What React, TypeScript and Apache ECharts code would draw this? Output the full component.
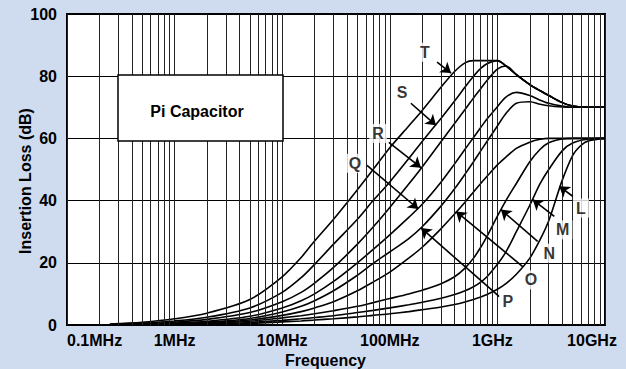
import React, { useEffect, useRef } from 'react';
import * as echarts from 'echarts';

// Frequency in MHz, insertion loss in dB
const seriesNames = ['T', 'S', 'R', 'Q', 'P', 'O', 'N', 'M', 'L'];

const curveT = [[0.25,0.3],[0.5,0.9],[1,2.0],[2,3.8],[5,8.2],[10,15.5],[15,21.7],[20,27],[30,34],[50,43.5],[70,50],[100,57],[150,64],[200,69],[300,76.5],[400,81.5],[500,84.3],[600,85],[1000,85],[1200,83.3],[1500,80.5],[2000,77.3],[2500,75.3],[3000,73.8],[4000,71.5],[5000,70.4],[7000,70],[10000,70]];
const curveS = [[0.25,0.2],[0.5,0.6],[1,1.3],[2,2.5],[5,5.5],[10,10.5],[15,15.2],[20,19.5],[30,26],[50,34],[70,40],[100,46],[150,53.5],[200,59],[300,66.5],[400,72],[500,76.5],[600,80],[700,82.5],[800,84],[1000,85],[1200,83.3],[1500,80.5],[2000,77.3],[2500,75.3],[3000,73.8],[4000,71.5],[5000,70.4],[7000,70],[10000,70]];
const curveR = [[0.25,0.1],[0.5,0.4],[1,0.9],[2,1.8],[5,4],[10,7.5],[15,10.5],[20,13.5],[30,18.5],[50,26],[70,31.5],[100,37.8],[150,45.3],[200,50.8],[300,59],[400,64.8],[500,69.3],[600,73],[700,76],[800,78.6],[1000,82.3],[1200,83.3],[1500,80.5],[2000,77.3],[2500,75.3],[3000,73.8],[4000,71.5],[5000,70.4],[7000,70],[10000,70]];
const curveQ = [[0.25,0.05],[0.5,0.25],[1,0.6],[2,1.2],[5,2.8],[10,5.5],[15,7.8],[20,10],[30,14],[50,20],[70,24.3],[100,29],[150,34.6],[200,38.8],[300,46],[400,51.8],[500,56.5],[600,60.3],[700,63.5],[800,66.2],[1000,70.2],[1200,73.3],[1500,74.8],[2000,73.8],[2500,72.3],[3000,71.3],[4000,70.4],[5000,70],[10000,70]];
const curveP = [[0.25,0.03],[0.5,0.15],[1,0.4],[2,0.9],[5,2.1],[10,4.2],[15,6],[20,7.8],[30,11],[50,16],[70,19.8],[100,23.5],[150,27.8],[200,31.6],[300,38.3],[400,43.8],[500,48.5],[600,52.5],[700,56],[800,59],[1000,64],[1200,68],[1500,71.3],[2000,71.8],[2500,71],[3000,70.5],[4000,70.1],[5000,70],[10000,70]];
const curveO = [[0.25,0.02],[0.5,0.1],[1,0.3],[2,0.7],[5,1.6],[10,3.1],[15,4.3],[20,5.5],[30,7.5],[50,11],[70,13.8],[100,17],[150,21.5],[200,25],[300,31],[400,35.7],[500,39.5],[600,42.8],[700,45.5],[800,47.8],[1000,51.5],[1200,54],[1500,56.8],[2000,58.8],[2500,59.7],[3000,60],[10000,60]];
const curveN = [[0.25,0.02],[0.5,0.08],[1,0.2],[2,0.5],[5,1.2],[10,2.3],[15,3.0],[20,3.6],[30,4.6],[50,6],[70,7.2],[100,8.5],[150,10],[200,11.2],[300,13.3],[400,15.5],[500,18.3],[600,21.5],[700,25],[800,28.5],[1000,35],[1200,40],[1500,45.5],[2000,52.5],[2500,56.5],[3000,58.6],[4000,59.8],[5000,60],[10000,60]];
const curveM = [[0.25,0.01],[0.5,0.05],[1,0.13],[2,0.3],[5,0.8],[10,1.5],[15,2],[20,2.4],[30,3.0],[50,4],[70,4.7],[100,5.5],[150,6.5],[200,7.3],[300,8.6],[400,9.8],[500,11],[600,12.3],[700,13.8],[800,15.5],[1000,19.5],[1200,23.5],[1500,30],[2000,38.5],[2500,45.5],[3000,50],[4000,56],[5000,58.5],[7000,59.8],[10000,60]];
const curveL = [[0.25,0.01],[0.5,0.03],[1,0.08],[2,0.2],[5,0.5],[10,1.0],[15,1.3],[20,1.6],[30,2.0],[50,2.6],[70,3.1],[100,3.6],[150,4.3],[200,4.9],[300,5.8],[400,6.6],[500,7.4],[600,8.2],[700,9],[800,9.8],[1000,11.5],[1200,13.3],[1500,16.3],[2000,21.5],[2500,27.5],[3000,33.5],[4000,46.5],[5000,54.5],[6000,57.8],[7000,59.2],[10000,60]];
const curves = [curveT, curveS, curveR, curveQ, curveP, curveO, curveN, curveM, curveL];

const xTickLabels = ['0.1MHz', '1MHz', '10MHz', '100MHz', '1GHz', '10GHz'];
const gridDecades = [0.1, 1, 10, 100, 1000];
const gridSteps = [2, 3, 4, 5, 6, 7, 8, 9];

const labelNames = ['T', 'S', 'R', 'Q', 'P', 'O', 'N', 'M', 'L'];
const labelPos = [[212,87.7],[130,74.8],[77.7,61.6],[47.5,52],[1247,7.7],[2050,14.5],[3035,23.1],[4050,30.6],[5985,37.6]];
const arrowFrom = [[275,84.5],[157,71.3],[98,58.7],[61.4,51.3],[1042,9.1],[1718,18.8],[2365,26.9],[3380,34.9],[5010,41.4]];
const arrowTo = [[371,81],[269,64.2],[195,50.6],[184,37.3],[195,31.2],[412,36.5],[1079,37.1],[2130,40.3],[3760,44.6]];

const boxTitle = 'Pi Capacitor';
const yAxisTitle = 'Insertion Loss (dB)';
const xAxisTitle = 'Frequency';

export default function App() {
  const ref = useRef<HTMLDivElement>(null);
  useEffect(() => {
    const chart = echarts.init(ref.current!, null, { renderer: 'svg' });
    const font = '"Liberation Sans", Arial, Helvetica, sans-serif';
    const minorLines: any[] = [];
    gridDecades.forEach((d) => gridSteps.forEach((s) => minorLines.push({ xAxis: +(d * s).toPrecision(3) })));
    const txt = { fontSize: 16, fontWeight: 'bold', color: '#000', fontFamily: font };
    chart.setOption({
      animation: false,
      backgroundColor: '#cfdcf0',
      textStyle: { fontFamily: font },
      grid: {
        left: 67, right: 21, top: 14, bottom: 44, show: true, containLabel: false, outerBoundsMode: 'none',
        backgroundColor: '#fff', borderColor: '#000', borderWidth: 2,
      },
      xAxis: {
        type: 'log', logBase: 10, min: 0.1, max: 10000,
        axisLine: { show: false }, axisTick: { show: false },
        splitLine: { show: true, lineStyle: { color: '#222', width: 1 } },
        axisLabel: {
          ...txt, margin: 7, showMinLabel: true, showMaxLabel: true, alignMinLabel: 'left',
          formatter: (v: number) => {
            const i = Math.round(Math.log10(v)) + 1;
            const s = xTickLabels[i] ?? '';
            if (i === 4) return '{g|' + s + '}';
            if (i === 5) return '{h|' + s + '}';
            return s;
          },
          rich: {
            g: { ...txt, padding: [0, 10, 0, 0] },
            h: { ...txt, padding: [0, 26, 0, 0] },
          },
        },
        name: xAxisTitle, nameLocation: 'middle', nameGap: 19,
        nameTextStyle: { ...txt, padding: [0, 21, 0, 0] },
      },
      yAxis: {
        type: 'value', min: 0, max: 100, interval: 20,
        axisLine: { show: false }, axisTick: { show: false },
        splitLine: { show: true, lineStyle: { color: '#000', width: 1 } },
        axisLabel: { ...txt, margin: 10 },
      },
      series: [
        {
          type: 'line', name: 'grid', data: [], silent: true, z: 1,
          markLine: {
            silent: true, symbol: ['none', 'none'], label: { show: false },
            lineStyle: { color: '#222', width: 1, type: 'solid' },
            emphasis: { disabled: true }, data: minorLines,
          },
        },
        ...curves.map((c, i) => ({
          type: 'line', name: seriesNames[i], data: c, showSymbol: false, smooth: 0.3,
          lineStyle: { color: '#000', width: 1.6 }, silent: true, z: 3,
        })),
        {
          type: 'line', name: 'arrows', data: [], silent: true, z: 4,
          markLine: {
            silent: true, symbol: ['none', 'arrow'], symbolSize: 10, label: { show: false },
            lineStyle: { color: '#000', width: 1.6, type: 'solid' },
            itemStyle: { color: '#000' },
            emphasis: { disabled: true },
            data: arrowFrom.map((a, i) => [{ coord: a }, { coord: arrowTo[i] }]),
          },
        },
        {
          type: 'scatter', name: 'labels', silent: true, z: 5, symbolSize: 1,
          itemStyle: { color: 'rgba(0,0,0,0)' },
          data: labelPos.map((p, i) => ({ value: p, name: labelNames[i] })),
          label: { show: true, position: 'inside', formatter: '{b}', backgroundColor: '#fff', padding: [2, 3, 1, 3], ...txt },
        },
      ],
      graphic: [
        { type: 'rect', z: 100, shape: { x: 118, y: 75, width: 165, height: 66 }, style: { fill: '#fff', stroke: '#000', lineWidth: 1.5 } },
        { type: 'text', z: 101, x: 197, y: 111.5, style: { text: boxTitle, fill: '#000', font: 'bold 16px ' + font, align: 'center', verticalAlign: 'middle' } },
        { type: 'text', z: 101, x: 25, y: 181, rotation: Math.PI / 2, style: { text: yAxisTitle, fill: '#000', font: 'bold 16px ' + font, align: 'center', verticalAlign: 'middle' } },
      ],
    });
    return () => chart.dispose();
  }, []);
  return <div ref={ref} style={{ position: 'fixed', left: 0, top: 0, width: 626, height: 369 }} />;
}
